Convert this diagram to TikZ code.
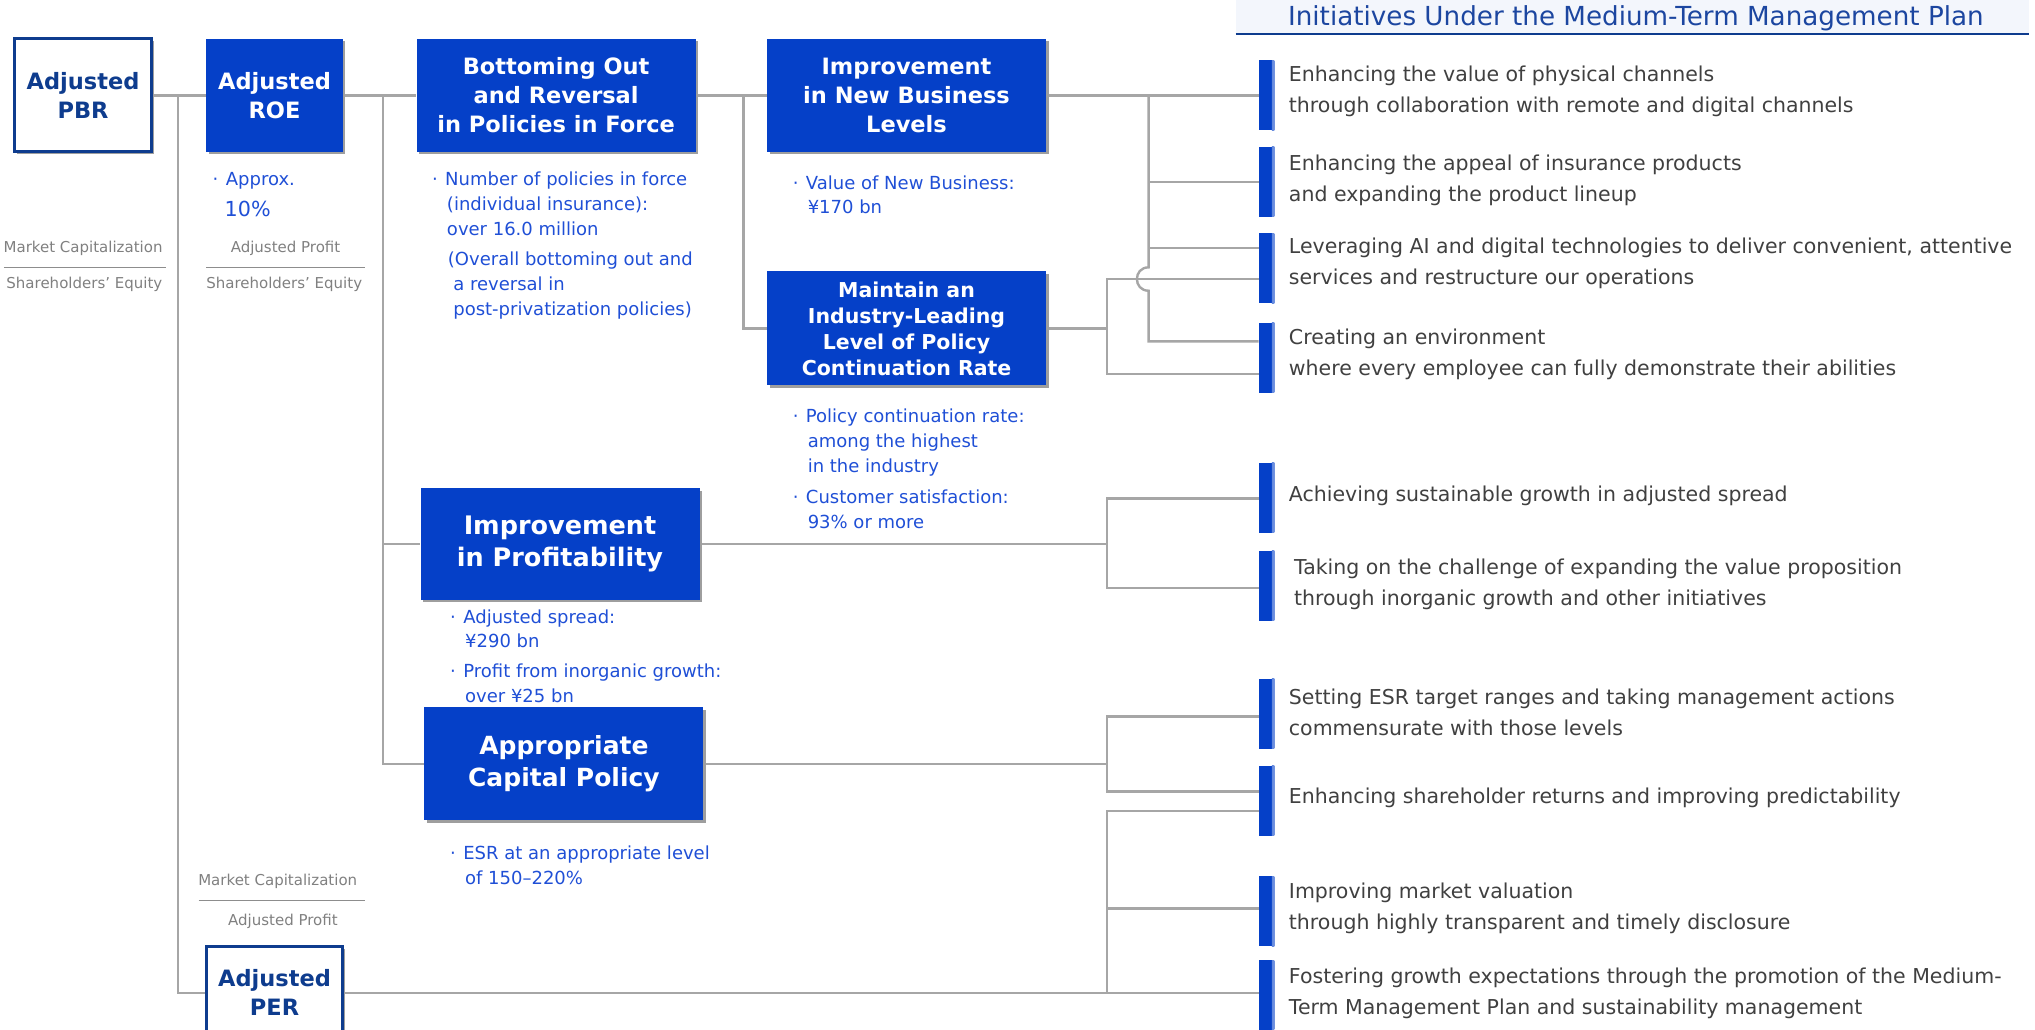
\documentclass[tikz,border=0pt]{standalone}
\usepackage{fontspec}
\setmainfont{DejaVu Sans}
\usetikzlibrary{shadows}
\definecolor{boxblue}{HTML}{0540C8}
\definecolor{navy}{HTML}{0E3C8E}
\definecolor{capblue}{HTML}{1F4FD6}
\definecolor{titleblue}{HTML}{1C46A0}
\definecolor{linegray}{HTML}{A6A6A6}
\definecolor{txtgray}{HTML}{404040}
\definecolor{lblgray}{HTML}{808080}
\definecolor{bandbg}{HTML}{F3F6FC}
\pgfdeclarelayer{background}
\pgfsetlayers{background,main}
\newcommand{\bul}{\makebox[1em][l]{\hspace{0.27em}·}}
\begin{document}
\begin{tikzpicture}[x=1.2978pt, y=-1.2978pt,
  shadowed/.style={drop shadow={shadow xshift=2.5pt, shadow yshift=-2.5pt, fill=black!38, opacity=1}},
  bbox/.style={shadowed, fill=boxblue, text=white, align=center, inner sep=0pt,
     font=\bfseries\fontsize{22.5}{29}\selectfont},
  obox/.style={shadowed, draw=navy, line width=3pt, fill=white, text=navy, align=center, inner sep=0pt,
     font=\bfseries\fontsize{22.5}{29}\selectfont},
  bar/.style={fill=boxblue, inner sep=0pt, minimum width=15.6pt, minimum height=70pt,
     path picture={\shade[left color=boxblue, right color=boxblue!55]
       ([xshift=-2.5pt]path picture bounding box.north east) rectangle (path picture bounding box.south east);}},
  conn/.style={draw=linegray, line width=2.4pt},
  frac/.style={draw=lblgray!90, line width=1.5pt},
  rtxt/.style={anchor=west, align=left, text=txtgray, inner sep=0pt, font=\fontsize{20.5}{31}\selectfont},
  captxt/.style={anchor=west, align=left, text=capblue, inner sep=0pt, font=\fontsize{18}{24.7}\selectfont},
  lbl/.style={text=lblgray, inner sep=0pt, font=\fontsize{15}{18}\selectfont}]
\clip (0,0) rectangle (1568,793);

% header
\fill[bandbg] (952,0) rectangle (1563,26);
\draw[navy, line width=1.6pt] (952,26) -- (1563,26);
\node[text=titleblue, inner sep=0pt, font=\fontsize{26.2}{30}\selectfont] (title) at (1260.5,14) {Initiatives Under the Medium-Term Management Plan};

% main boxes
\node[obox, minimum width=137.6pt, minimum height=112.9pt] (pbr) at (64,73.5) {Adjusted\\PBR};
\node[bbox, minimum width=136.3pt, minimum height=112.9pt] (roe) at (211.5,73.5) {Adjusted\\ROE};
\node[bbox, minimum width=279pt, minimum height=112.9pt] (bot) at (428.5,73.5) {Bottoming Out\\and Reversal\\in Policies in Force};
\node[bbox, minimum width=279pt, minimum height=112.9pt] (nb) at (698.5,73.5) {Improvement\\in New Business\\Levels};
\node[bbox, minimum width=279pt, minimum height=114.2pt, font=\bfseries\fontsize{20.5}{26}\selectfont] (mt) at (698.5,253) {Maintain an\\Industry-Leading\\Level of Policy\\Continuation Rate};
\node[bbox, minimum width=279pt, minimum height=111.6pt, font=\bfseries\fontsize{25.5}{32}\selectfont] (pr) at (431.5,419) {Improvement\\in Profitability};
\node[bbox, minimum width=279pt, minimum height=112.9pt, font=\bfseries\fontsize{25}{32}\selectfont] (cp) at (434.5,588.5) {Appropriate\\Capital Policy};
\node[obox, minimum width=136.3pt, minimum height=92pt] (per) at (211.5,764.5) {Adjusted\\PER};

% bars
\node[bar] (b1) at (976,73.5) {};
\node[bar] (b2) at (976,140) {};
\node[bar] (b3) at (976,206.5) {};
\node[bar] (b4) at (976,275.5) {};
\node[bar] (b5) at (976,383.5) {};
\node[bar] (b6) at (976,451.5) {};
\node[bar] (b7) at (976,550) {};
\node[bar] (b8) at (976,617) {};
\node[bar] (b9) at (976,702) {};
\node[bar] (b10) at (976,767) {};

% junctions
\coordinate (j1) at (137,73.5);
\coordinate (j2) at (295,73.5);
\coordinate (j3) at (573,73.5);
\coordinate (j4) at (885,73.5);
\coordinate (j5) at (853,253);
\coordinate (j6) at (853,419);
\coordinate (j7) at (853,588.5);
\coordinate (j8) at (853,765);

\begin{pgfonlayer}{background}
\draw[conn] (pbr.east) -- (roe.west);
\draw[conn] (j1) |- (j8);
\draw[conn] (roe.east) -- (bot.west);
\draw[conn] (j2) |- (pr.west);
\draw[conn] (j2) |- (cp.west);
\draw[conn] (bot.east) -- (nb.west);
\draw[conn] (j3) |- (mt.west);
% new business
\draw[conn] (nb.east) -- (nb.east -| b1.west);
\draw[conn] (j4) -- (885,206) .. controls (873,206) and (873,224) .. (885,224) -- (885,263) -- (b4.west |- 0,263);
\draw[conn] (885,140) -- (b2.west);
\draw[conn] (885,191) -- (b3.west |- 0,191);
% maintain
\draw[conn] (mt.east) -- (j5);
\draw[conn] (b3.west |- 0,215) -- (853,215) -- (853,288) -- (b4.west |- 0,288);
% profitability
\draw[conn] (pr.east) -- (j6);
\draw[conn] (b5.west |- 0,384) -- (853,384) -- (853,453) -- (b6.west |- 0,453);
% capital
\draw[conn] (cp.east) -- (j7);
\draw[conn] (b7.west |- 0,552) -- (853,552) -- (853,610) -- (b8.west |- 0,610);
% per
\draw[conn] (b8.west |- 0,625) -- (853,625) -- (j8) -- (b10.west |- 0,765);
\draw[conn] (853,700) -- (b9.west |- 0,700);
\end{pgfonlayer}

% fraction labels
\node[lbl] (mc1) at (64,191) {Market Capitalization};
\draw[frac] (3,206) -- (128,206);
\node[lbl] (se1) at (65,219) {Shareholders’ Equity};
\node[lbl] (ap1) at (220,191) {Adjusted Profit};
\draw[frac] (159,206) -- (281,206);
\node[lbl] (se2) at (219,219) {Shareholders’ Equity};
\node[lbl] (mc2) at (214,679) {Market Capitalization};
\draw[frac] (153,694) -- (281,694);
\node[lbl] (ap2) at (218,710) {Adjusted Profit};

% captions
\node[captxt] (c1) at (160,139) {\bul Approx.};
\node[captxt, font=\fontsize{20.7}{24}\selectfont] (c1b) at (173,161) {10\%};
\node[captxt] (c2) at (329,157) {\bul Number of policies in force\\\hspace*{1.1em}(individual insurance):\\\hspace*{1.1em}over 16.0 million};
\node[captxt] (c2b) at (345,220) {(Overall bottoming out and\\\hspace*{0.3em}a reversal in\\\hspace*{0.3em}post-privatization policies)};
\node[captxt] (c3) at (607,150) {\bul Value of New Business:\\\hspace*{1.1em}¥170 bn};
\node[captxt] (c4) at (607,341) {\bul Policy continuation rate:\\\hspace*{1.1em}among the highest\\\hspace*{1.1em}in the industry};
\node[captxt] (c4b) at (607,392.5) {\bul Customer satisfaction:\\\hspace*{1.1em}93\% or more};
\node[captxt] (c5) at (343,484.5) {\bul Adjusted spread:\\\hspace*{1.1em}¥290 bn};
\node[captxt] (c5b) at (343,526.5) {\bul Profit from inorganic growth:\\\hspace*{1.1em}over ¥25 bn};
\node[captxt] (c6) at (343,666.5) {\bul ESR at an appropriate level\\\hspace*{1.1em}of 150–220\%};

% right texts
\node[rtxt] (t1) at (993,70) {Enhancing the value of physical channels\\through collaboration with remote and digital channels};
\node[rtxt] (t2) at (993,139) {Enhancing the appeal of insurance products\\and expanding the product lineup};
\node[rtxt] (t3) at (993,203) {Leveraging AI and digital technologies to deliver convenient, attentive\\services and restructure our operations};
\node[rtxt] (t4) at (993,273) {Creating an environment\\where every employee can fully demonstrate their abilities};
\node[rtxt] (t5) at (993,382) {Achieving sustainable growth in adjusted spread};
\node[rtxt] (t6) at (997,450) {Taking on the challenge of expanding the value proposition\\through inorganic growth and other initiatives};
\node[rtxt] (t7) at (993,549) {Setting ESR target ranges and taking management actions\\commensurate with those levels};
\node[rtxt] (t8) at (993,615) {Enhancing shareholder returns and improving predictability};
\node[rtxt] (t9) at (993,700) {Improving market valuation\\through highly transparent and timely disclosure};
\node[rtxt] (t10) at (993,765) {Fostering growth expectations through the promotion of the Medium-\\Term Management Plan and sustainability management};
\end{tikzpicture}
\end{document}
